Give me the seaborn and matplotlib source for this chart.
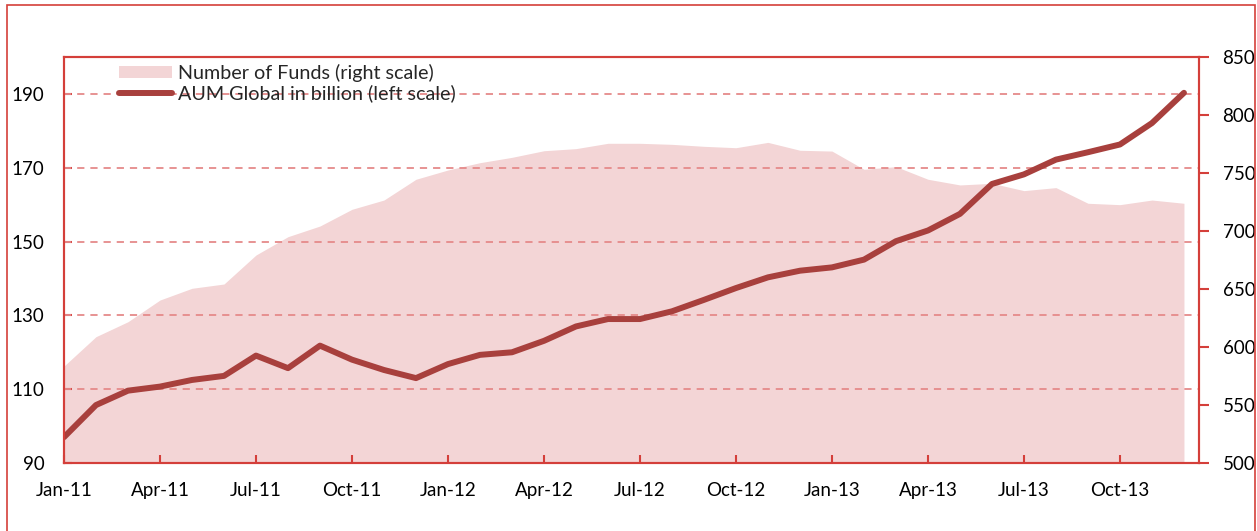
import numpy as np
import pandas as pd
import matplotlib
matplotlib.use("Agg")
import matplotlib.pyplot as plt
from matplotlib.patches import Patch, Rectangle
from matplotlib.lines import Line2D
import seaborn as sns

# monthly data, Jan-11 .. Dec-13
months = pd.date_range("2011-01-01", periods=36, freq="MS")
aum_billion = [97.0, 105.7, 109.6, 110.7, 112.5, 113.6, 119.1, 115.7, 121.8, 118.0, 115.2, 113.0,
               116.8, 119.3, 120.0, 123.1, 127.0, 129.0, 129.0, 131.1, 134.2, 137.4, 140.3, 142.1,
               143.0, 145.1, 150.1, 153.0, 157.5, 165.6, 168.2, 172.2, 174.2, 176.3, 182.1, 190.3]
num_funds = [583.6, 608.9, 621.8, 640.5, 650.6, 654.3, 679.3, 695.1, 704.3, 718.7, 726.7, 744.6,
             752.6, 758.9, 763.5, 769.2, 771.0, 775.6, 775.6, 774.7, 773.0, 771.8, 776.4, 769.6,
             768.9, 753.2, 755.5, 744.6, 739.7, 741.1, 734.8, 737.4, 723.9, 722.7, 726.7, 723.9]
left_ticks = [90, 110, 130, 150, 170, 190]
right_ticks = [500, 550, 600, 650, 700, 750, 800, 850]

RED = "#D43F3A"
LINE = "#A8403D"
FILL = "#F3D5D6"
GRID = "#E58A8A"

sns.set_theme(style="white")
plt.rcParams["font.family"] = ["Lato", "DejaVu Sans"]
FS = 13.5

fig = plt.figure(figsize=(12.57, 5.31), dpi=100)
ax = fig.add_axes([64 / 1257, 1 - 463 / 531, (1199 - 64) / 1257, (463 - 57) / 531])
ax2 = ax.twinx()
ax.set_zorder(ax2.get_zorder() + 1)
ax.patch.set_visible(False)

x = np.arange(len(months))

# area on right scale
ax2.fill_between(x, 500, num_funds, color=FILL, linewidth=0)
ax2.set_ylim(500, 850)
ax2.set_yticks(right_ticks)
ax2.tick_params(axis="y", direction="out", length=7, width=1.5, color=RED,
                pad=10, labelsize=FS, labelcolor="black")

# line on left scale
sns.lineplot(x=x, y=aum_billion, ax=ax, color=LINE, linewidth=4.3)
ax.set_ylim(90, 200)
ax.set_yticks(left_ticks)
ax.set_xlim(0, 35.47)
ax.set_xticks(x[::3])
ax.set_xticklabels([m.strftime("%b-%y") for m in months[::3]])
ax.tick_params(axis="y", direction="in", length=6, width=1.5, color=RED,
               pad=14, labelsize=FS, labelcolor="black", left=True)
ax.tick_params(axis="x", direction="in", length=6, width=1.5, color=RED,
               pad=14, labelsize=FS, labelcolor="black", bottom=True)
ax.set_xlabel("")
ax.set_ylabel("")
ax.grid(False)
for v in left_ticks[1:]:
    ax.axhline(v, color=GRID, linewidth=1.3, linestyle=(0, (4, 3.3)), zorder=1)

for a in (ax, ax2):
    for s in a.spines.values():
        s.set_color(RED)
        s.set_linewidth(1.5)

handles = [Patch(facecolor=FILL, edgecolor="none"),
           Line2D([0], [0], color=LINE, linewidth=4.3)]
ax.legend(handles, ["Number of Funds (right scale)", "AUM Global in billion (left scale)"],
          loc="upper left", bbox_to_anchor=(119 / 1257, 1 - 64 / 531),
          bbox_transform=fig.transFigure, frameon=False, fontsize=14.2,
          borderpad=0, borderaxespad=0, handlelength=2.7, handleheight=0.6,
          handletextpad=0.3, labelspacing=0.12)

# outer frame
fig.patches.append(Rectangle((7 / 1257, -0.05), (1255 - 7) / 1257, 1.05 - 5.5 / 531,
                             transform=fig.transFigure, fill=False,
                             edgecolor=RED, linewidth=1.2))

fig.savefig("out.png", dpi=100)
